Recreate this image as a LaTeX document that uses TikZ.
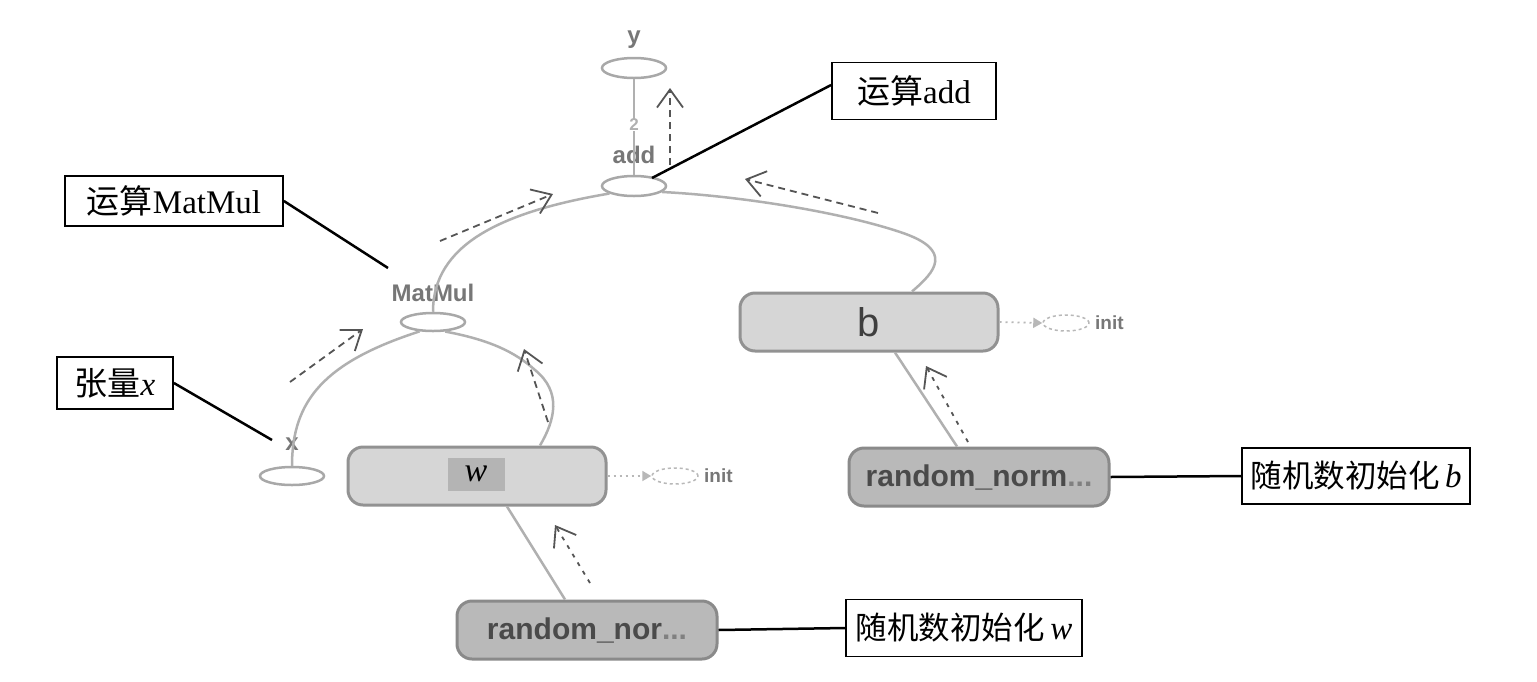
\documentclass[tikz,border=0pt]{standalone}
\usepackage{fontspec}
\setmainfont{Liberation Serif}
\setsansfont{Liberation Sans}
\newfontfamily\cjk{Noto Sans CJK SC}
\usetikzlibrary{arrows.meta,shapes.geometric,calc}
\definecolor{edgegray}{HTML}{B0B0B0}
\definecolor{opgray}{HTML}{A8A8A8}
\definecolor{lblgray}{HTML}{777777}
\definecolor{varfill}{HTML}{D6D6D6}
\definecolor{vardraw}{HTML}{929292}
\definecolor{rnfill}{HTML}{B9B9B9}
\definecolor{rndraw}{HTML}{8A8A8A}
\definecolor{rntext}{HTML}{4A4A4A}
\definecolor{wrect}{HTML}{B4B4B4}
\definecolor{flowgray}{HTML}{555555}
\definecolor{initgray}{HTML}{B8B8B8}
\tikzset{
  opnode/.style={ellipse, draw=opgray, line width=2.5pt, minimum width=64pt, minimum height=20pt, inner sep=0pt},
  oplabel/.style={font=\sffamily\bfseries\fontsize{24}{24}\selectfont, text=lblgray, inner sep=0pt},
  varbox/.style={rectangle, rounded corners=15pt, draw=vardraw, fill=varfill, line width=3pt, minimum width=258pt, minimum height=58pt, inner sep=0pt},
  rnbox/.style={rectangle, rounded corners=15pt, draw=rndraw, fill=rnfill, line width=3pt, minimum width=260pt, minimum height=58pt, inner sep=0pt, text=rntext, font=\sffamily\bfseries\fontsize{30}{30}\selectfont},
  callout/.style={rectangle, draw=black, line width=1.8pt, fill=white, inner sep=0pt, font=\fontsize{33}{40}\selectfont},
  calline/.style={draw=black, line width=2.5pt},
  graphedge/.style={draw=edgegray, line width=2.5pt},
  flow/.style={draw=flowgray, line width=1.8pt, dash pattern=on 7pt off 5pt, -{Straight Barb[length=18pt,width=26pt,line width=1.8pt]}},
  flowdot/.style={draw=flowgray, line width=1.8pt, dash pattern=on 4pt off 6pt, -{Straight Barb[length=18pt,width=26pt,line width=1.8pt]}},
  initline/.style={draw=initgray, line width=1.8pt, dash pattern=on 2pt off 4pt, -{Triangle[length=9pt,width=10pt]}},
  initnode/.style={ellipse, draw=initgray, line width=1.5pt, dash pattern=on 3pt off 3pt, minimum width=46pt, minimum height=16pt, inner sep=0pt},
  initlabel/.style={font=\sffamily\bfseries\fontsize{19}{19}\selectfont, text=lblgray, inner sep=0pt, anchor=west},
}
\begin{document}
\begin{tikzpicture}[x=1pt,y=-1pt]
\useasboundingbox[fill=white] (0,0) rectangle (1537,681);

% graph op nodes
\node[opnode] (y) at (634,68) {};
\node[oplabel] (ylbl) at (634,40) {y};
\node[opnode] (add) at (634,186) {};
\node[oplabel] (addlbl) at (634,155) {add};
\node[opnode, minimum height=18pt] (matmul) at (433,322) {};
\node[oplabel] (matmullbl) at (433,293) {MatMul};
\node[opnode, minimum height=18pt] (x) at (292,476) {};
\node[oplabel] (xlbl) at (292,444) {x};

% variable boxes
\node[varbox] (wvar) at (477,476) {};
\node[fill=wrect, minimum width=57pt, minimum height=33pt, inner sep=0pt, font=\itshape\fontsize{34}{34}\selectfont] (wlbl) at (476,474) {w};
\node[varbox] (bvar) at (869,322) {};
\node[font=\sffamily\fontsize{40}{40}\selectfont, text=rntext!85!black, inner sep=0pt] (blbl) at (869,322) {b};
\node[rnbox] (rnw) at (587,630) {random\_nor{\color{gray}...}};
\node[rnbox] (rnb) at (979,477) {random\_norm{\color{gray}...}};

% init
\node[initnode] (winit) at (675,476) {};
\node[initlabel] (winitlbl) at (704,476) {init};
\draw[initline] (wvar.east) -- (winit.west);
\node[initnode] (binit) at (1066,323) {};
\node[initlabel] (binitlbl) at (1095,323) {init};
\draw[initline] (bvar.east) -- (binit.west);

% graph edges
\draw[graphedge] (add.north) -- (y.south);
\node[font=\sffamily\bfseries\fontsize{17}{17}\selectfont, text=edgegray, fill=white, inner sep=0.5pt] (ymark) at (634,125) {2};
\draw[graphedge] (matmul.north) .. controls (433,245) and (500,212) .. (add.197);
\draw[graphedge] ([xshift=43pt]bvar.north) .. controls (935,272) and (955,250) .. (900,232)
   .. controls (840,212) and (740,196) .. (add.-12);
\draw[graphedge] (x.north) .. controls (292,400) and (325,362) .. (matmul.215);
\draw[graphedge] ([xshift=63pt]wvar.north) .. controls (555,420) and (562,392) .. (535,370)
   .. controls (515,352) and (490,340) .. (matmul.-38);
\draw[graphedge] ([xshift=-22pt]rnw.north) -- ([xshift=30pt]wvar.south);
\draw[graphedge] ([xshift=-22pt]rnb.north) -- ([xshift=26pt]bvar.south);

% data flow arrows
\coordinate (f1a) at (670,165); \coordinate (f1b) at (670,88);
\draw[flow] (f1a) -- (f1b);
\coordinate (f2a) at (440,241); \coordinate (f2b) at (553,194);
\draw[flow] (f2a) -- (f2b);
\coordinate (f3a) at (878,213); \coordinate (f3b) at (745,179);
\draw[flow] (f3a) -- (f3b);
\coordinate (f4a) at (290,382); \coordinate (f4b) at (363,329);
\draw[flow] (f4a) -- (f4b);
\coordinate (f5a) at (548,422); \coordinate (f5b) at (524,349);
\draw[flow] (f5a) -- (f5b);
\coordinate (f6a) at (590,583); \coordinate (f6b) at (555,525);
\draw[flowdot] (f6a) -- (f6b);
\coordinate (f7a) at (968,442); \coordinate (f7b) at (926,366);
\draw[flowdot] (f7a) -- (f7b);

% callouts
\node[callout, minimum width=164pt, minimum height=57pt] (cadd) at (914,91) {{\cjk 运算}add};
\node[callout, minimum width=218pt, minimum height=50pt] (cmat) at (174,201) {{\cjk 运算}MatMul};
\node[callout, minimum width=116pt, minimum height=52pt] (cx) at (115,383) {{\cjk 张量}\textit{x}};
\node[callout, minimum width=228pt, minimum height=56pt] (cb) at (1356,476) {{\cjk\fontsize{31.5}{36}\selectfont 随机数初始化}\,\textit{b}};
\node[callout, minimum width=236pt, minimum height=57pt] (cw) at (964,628) {{\cjk\fontsize{31.5}{36}\selectfont 随机数初始化}\,\textit{w}};

\coordinate (caddend) at (652,178);
\coordinate (cmatend) at (388,268);
\coordinate (cxend) at (272,440);
\draw[calline] ([yshift=6pt]cadd.west) -- (caddend);
\draw[calline] (cmat.east) -- (cmatend);
\draw[calline] (cx.east) -- (cxend);
\draw[calline] (rnb.east) -- (cb.west);
\draw[calline] (rnw.east) -- (cw.west);
\end{tikzpicture}
\end{document}
